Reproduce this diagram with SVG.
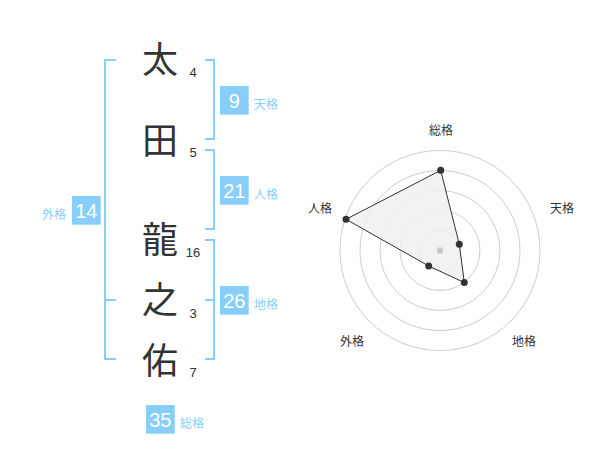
<svg xmlns="http://www.w3.org/2000/svg" width="600" height="470" viewBox="0 0 600 470">
<style>
.ch{font-family:"Noto Sans CJK JP","Noto Sans CJK SC",sans-serif;font-size:36px;fill:#333;text-anchor:middle}
.sn{font-family:"Liberation Sans",Arial,sans-serif;font-size:13px;fill:#333;text-anchor:middle}
.box{fill:#87cefa}
.bn{font-family:"Liberation Sans",Arial,sans-serif;font-size:20px;fill:#fff;text-anchor:middle}
.bl{font-family:"Noto Sans CJK JP","Noto Sans CJK SC",sans-serif;font-size:12px;fill:#87cefa}
.br{fill:none;stroke:#87cefa;stroke-width:2}
.ring{fill:none;stroke:#ccc;stroke-width:1}
.rl{font-family:"Noto Sans CJK JP","Noto Sans CJK SC",sans-serif;font-size:12px;fill:#333;text-anchor:middle}
.pt{fill:#333}
</style>
<rect width="600" height="470" fill="#fff"/>
<g id="connectors">
<path class="br" d="M205,60H214V139H205"/>
<path class="br" d="M205,150H214V229H205"/>
<path class="br" d="M205,240H214V359H205M205,300H214"/>
<path class="br" d="M116,60H105V359H116M105,300H116"/>
</g>
<g id="char-1"><text class="ch" x="160" y="73">太</text><text class="sn" x="193" y="77">4</text></g>
<g id="char-2"><text class="ch" x="160" y="154">田</text><text class="sn" x="193" y="157">5</text></g>
<g id="char-3"><text class="ch" x="160" y="253">龍</text><text class="sn" x="193" y="257">16</text></g>
<g id="char-4"><text class="ch" x="160" y="313">之</text><text class="sn" x="193" y="318">3</text></g>
<g id="char-5"><text class="ch" x="160" y="374">佑</text><text class="sn" x="193" y="377">7</text></g>
<g id="tenkaku"><rect class="box" x="220" y="86" width="28.7" height="28.7"/><text class="bn" x="234.3" y="107.5">9</text><text class="bl" x="254" y="109">天格</text></g>
<g id="jinkaku"><rect class="box" x="220" y="176" width="28.7" height="28.7"/><text class="bn" x="234.3" y="197.5">21</text><text class="bl" x="254" y="199">人格</text></g>
<g id="gaikaku"><rect class="box" x="72" y="196" width="28.7" height="28.7"/><text class="bn" x="86.3" y="217.5">14</text><text class="bl" x="66" y="219" text-anchor="end">外格</text></g>
<g id="chikaku"><rect class="box" x="220" y="286" width="28.7" height="28.7"/><text class="bn" x="234.3" y="307.5">26</text><text class="bl" x="254" y="309">地格</text></g>
<g id="soukaku"><rect class="box" x="146" y="405" width="28.7" height="28.7"/><text class="bn" x="160.3" y="426.5">35</text><text class="bl" x="180" y="428">総格</text></g>
<g id="radar">
<circle class="ring" cx="440" cy="250.5" r="20"/>
<circle class="ring" cx="440" cy="250.5" r="40"/>
<circle class="ring" cx="440" cy="250.5" r="60"/>
<circle class="ring" cx="440" cy="250.5" r="80"/>
<circle class="ring" cx="440" cy="250.5" r="100"/>
<polygon points="440.7,170.3 459.3,244.3 464.3,282.5 428.7,266 346,219.3" fill="#f0f0f0" fill-opacity="0.85" stroke="#333" stroke-width="1"/>
<circle cx="440" cy="250.5" r="3.2" fill="#ccc"/>
<circle class="pt" cx="440.7" cy="170.3" r="3.5"/>
<circle class="pt" cx="459.3" cy="244.3" r="3.5"/>
<circle class="pt" cx="464.3" cy="282.5" r="3.5"/>
<circle class="pt" cx="428.7" cy="266" r="3.5"/>
<circle class="pt" cx="346" cy="219.3" r="3.5"/>
<text class="rl" x="441" y="135">総格</text>
<text class="rl" x="562" y="213">天格</text>
<text class="rl" x="524" y="345.5">地格</text>
<text class="rl" x="352" y="345.5">外格</text>
<text class="rl" x="320" y="213">人格</text>
</g>
</svg>
